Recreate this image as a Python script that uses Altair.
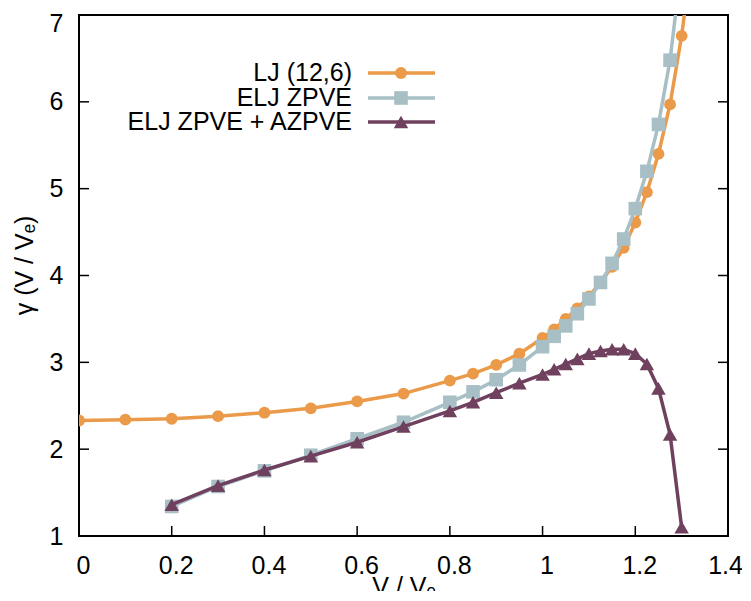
import altair as alt
import pandas as pd

# ---------------- data ----------------
series_names = ["LJ (12,6)", "ELJ ZPVE", "ELJ ZPVE + AZPVE"]

lj_x = [0, 0.1, 0.2, 0.3, 0.4, 0.5, 0.6, 0.7, 0.8, 0.85, 0.9, 0.95, 1.0, 1.025,
        1.05, 1.075, 1.1, 1.125, 1.15, 1.175, 1.2, 1.225, 1.25, 1.275, 1.3, 1.325]
lj_y = [2.33, 2.34, 2.35, 2.38, 2.42, 2.47, 2.55, 2.64, 2.79, 2.87, 2.97, 3.10, 3.28, 3.38,
        3.50, 3.62, 3.76, 3.92, 4.10, 4.32, 4.61, 4.96, 5.40, 5.97, 6.76, 7.80]

zpve_x = [0.2, 0.3, 0.4, 0.5, 0.6, 0.7, 0.8, 0.85, 0.9, 0.95, 1.0, 1.025, 1.05, 1.075,
          1.1, 1.125, 1.15, 1.175, 1.2, 1.225, 1.25, 1.275, 1.3]
zpve_y = [1.34, 1.57, 1.75, 1.93, 2.12, 2.31, 2.54, 2.66, 2.80, 2.97, 3.18, 3.30, 3.42, 3.56,
          3.73, 3.92, 4.14, 4.42, 4.77, 5.20, 5.74, 6.48, 7.60]

azpve_x = [0.2, 0.3, 0.4, 0.5, 0.6, 0.7, 0.8, 0.85, 0.9, 0.95, 1.0, 1.025, 1.05, 1.075,
           1.1, 1.125, 1.15, 1.175, 1.2, 1.225, 1.25, 1.275, 1.3]
azpve_y = [1.36, 1.58, 1.76, 1.92, 2.08, 2.26, 2.44, 2.54, 2.65, 2.76, 2.86, 2.92, 2.98, 3.04,
           3.10, 3.13, 3.15, 3.15, 3.10, 2.98, 2.70, 2.17, 1.10]

x_tick_values = [0, 0.2, 0.4, 0.6, 0.8, 1.0, 1.2, 1.4]
y_tick_values = [1, 2, 3, 4, 5, 6, 7]

# ---------------- styling ----------------
colors = ["#EA9A48", "#A7BFC5", "#70415E"]
shapes = ["circle", "square", "triangle-up"]
sizes = [140, 185, 210]
FONT = "Liberation Sans"
FS = 25
W, H = 649, 521
TICK = 10

series_data = [(lj_x, lj_y), (zpve_x, zpve_y), (azpve_x, azpve_y)]

x_scale = alt.Scale(domain=[0, 1.4], nice=False, zero=False)
y_scale = alt.Scale(domain=[1, 7], nice=False, zero=False)

x_axis = alt.Axis(values=x_tick_values, format="~g", title="V / Vₑ", grid=False,
                  domain=False, ticks=False, tickSize=0, labelPadding=17,
                  labelOffset=alt.condition("datum.value == 1.4", alt.value(-3), alt.value(4)),
                  labelFont=FONT, labelFontSize=FS, labelColor="black",
                  titleFont=FONT, titleFontSize=FS, titleFontWeight="normal",
                  titleColor="black", titlePadding=-4, labelFlush=False, labelOverlap=False)
y_axis = alt.Axis(values=y_tick_values, format="d", title="γ (V / Vₑ)", grid=False,
                  domain=False, ticks=False, tickSize=0, labelPadding=16,
                  labelOffset=alt.condition("datum.value == 7", alt.value(8), alt.value(0)),
                  labelFont=FONT, labelFontSize=FS, labelColor="black",
                  titleFont=FONT, titleFontSize=FS, titleFontWeight="normal",
                  titleColor="black", titleX=-42, titleY=250, titleAngle=270,
                  titleBaseline="bottom", titleAlign="center",
                  labelFlush=False, labelOverlap=False)

layers = []

# tick marks (inward, gnuplot style), positioned by the scales
xt = pd.DataFrame({"v": x_tick_values})
yt = pd.DataFrame({"v": y_tick_values})
layers.append(alt.Chart(xt).mark_rule(color="black", strokeWidth=1.5).encode(
    x=alt.X("v:Q", scale=x_scale, axis=x_axis),
    y=alt.value(H), y2=alt.value(H - TICK)))
layers.append(alt.Chart(yt).mark_rule(color="black", strokeWidth=1.5).encode(
    y=alt.Y("v:Q", scale=y_scale, axis=y_axis),
    x=alt.value(0), x2=alt.value(TICK)))
layers.append(alt.Chart(yt).mark_rule(color="black", strokeWidth=1.5).encode(
    y=alt.Y("v:Q", scale=y_scale, axis=y_axis),
    x=alt.value(W - TICK), x2=alt.value(W)))

# data series
for name, (xs, ys), col, shp, sz in zip(series_names, series_data, colors, shapes, sizes):
    df = pd.DataFrame({"x": xs, "y": ys, "series": name})
    base = alt.Chart(df).encode(
        x=alt.X("x:Q", scale=x_scale, axis=x_axis),
        y=alt.Y("y:Q", scale=y_scale, axis=y_axis),
    )
    layers.append(base.mark_line(color=col, strokeWidth=3.5, clip=True))
    layers.append(base.mark_point(color=col, fill=col, filled=True, opacity=1,
                                  shape=shp, size=sz, clip=True))

# legend (labels left of the line samples, as in the reference)
leg_rows = [58, 83, 107]
leg_df = pd.DataFrame({"series": series_names})
for i, (name, col, shp, sz) in enumerate(zip(series_names, colors, shapes, sizes)):
    row = leg_df[leg_df.series == name]
    yy = leg_rows[i]
    layers.append(alt.Chart(row).mark_text(align="right", baseline="middle",
                                           font=FONT, fontSize=FS, color="black").encode(
        text="series:N", x=alt.value(273), y=alt.value(yy)))
    layers.append(alt.Chart(row).mark_rule(color=col, strokeWidth=3.5).encode(
        x=alt.value(289), x2=alt.value(356), y=alt.value(yy)))
    layers.append(alt.Chart(row).mark_point(color=col, fill=col, filled=True, opacity=1,
                                            shape=shp, size=sz).encode(
        x=alt.value(322), y=alt.value(yy)))

chart = alt.layer(*layers).properties(
    width=W, height=H,
    autosize=alt.AutoSizeParams(type="none"),
    padding={"left": 71, "top": 7, "right": 14, "bottom": 55},
).configure_view(stroke="black", strokeWidth=2)

chart.save("out.html", embed_options={"renderer": "svg", "actions": False})
